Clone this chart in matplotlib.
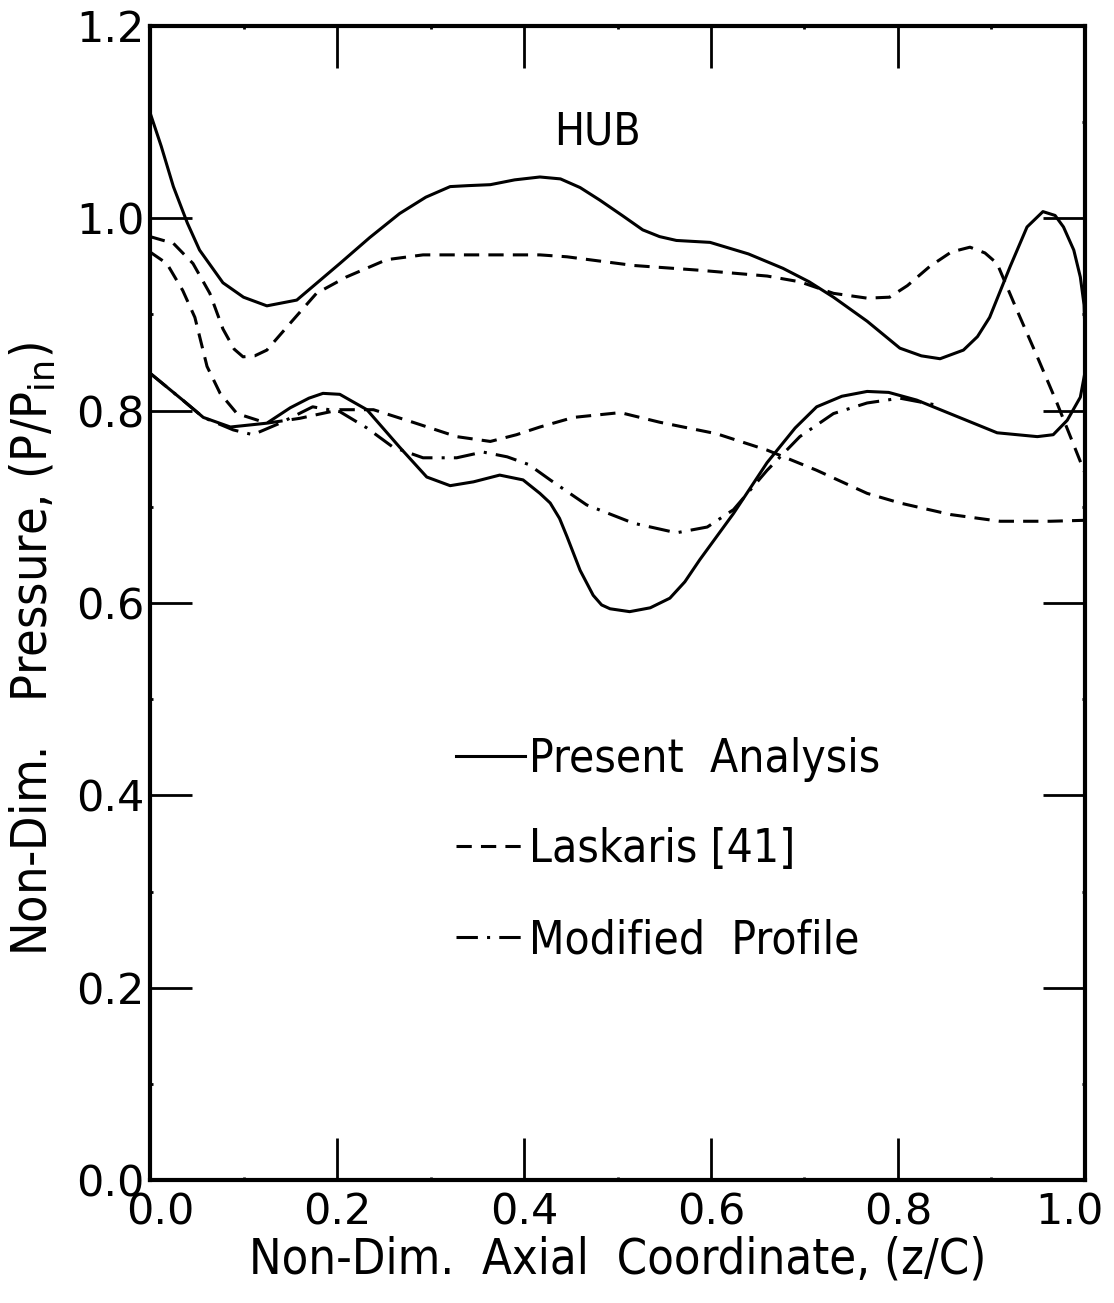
import numpy as np
import matplotlib
matplotlib.use('Agg')
import matplotlib.pyplot as plt
import matplotlib.transforms as mtransforms
from matplotlib.ticker import MultipleLocator, FormatStrFormatter

# ---------------------------------------------------------------
# Hub pressure distribution
# ---------------------------------------------------------------
# Present analysis, upper branch (closes onto lower branch at trailing edge)
pa_up_x = [0.0, 0.012, 0.025, 0.040, 0.053, 0.078, 0.10, 0.125, 0.157, 0.180, 0.203, 0.235,
           0.267, 0.295, 0.321, 0.340, 0.364, 0.390, 0.417, 0.439, 0.460, 0.481, 0.505,
           0.527, 0.545, 0.563, 0.599, 0.640, 0.677, 0.705, 0.731, 0.767, 0.802, 0.825,
           0.845, 0.870, 0.885, 0.898, 0.920, 0.938, 0.955, 0.968, 0.977, 0.988, 0.995,
           0.999, 1.0, 1.0]
pa_up_y = [1.11, 1.075, 1.033, 0.995, 0.967, 0.933, 0.918, 0.909, 0.915, 0.934, 0.953, 0.980,
           1.005, 1.022, 1.033, 1.034, 1.035, 1.040, 1.043, 1.041, 1.032, 1.019, 1.003,
           0.988, 0.981, 0.977, 0.975, 0.963, 0.948, 0.934, 0.918, 0.893, 0.865, 0.857,
           0.854, 0.863, 0.877, 0.897, 0.950, 0.991, 1.007, 1.003, 0.991, 0.967, 0.939,
           0.91, 0.88, 0.84]

# Present analysis, lower branch
pa_lo_x = [0.0, 0.035, 0.057, 0.086, 0.125, 0.150, 0.170, 0.185, 0.203, 0.232, 0.267,
           0.296, 0.321, 0.346, 0.374, 0.399, 0.417, 0.428, 0.438, 0.446, 0.460, 0.474,
           0.483, 0.492, 0.513, 0.535, 0.556, 0.572, 0.588, 0.624, 0.660, 0.690, 0.713,
           0.740, 0.767, 0.790, 0.820, 0.863, 0.906, 0.949, 0.966, 0.981, 0.995, 1.0]
pa_lo_y = [0.839, 0.811, 0.793, 0.783, 0.787, 0.803, 0.813, 0.818, 0.817, 0.801, 0.762,
           0.731, 0.722, 0.726, 0.733, 0.728, 0.714, 0.704, 0.688, 0.669, 0.634, 0.608,
           0.598, 0.594, 0.591, 0.595, 0.605, 0.622, 0.645, 0.693, 0.746, 0.782, 0.804,
           0.815, 0.820, 0.819, 0.811, 0.794, 0.777, 0.773, 0.775, 0.790, 0.814, 0.84]

# Laskaris [41], upper branch
la_up_x = [0.0, 0.025, 0.046, 0.064, 0.078, 0.090, 0.0995, 0.112, 0.125, 0.150, 0.178,
           0.210, 0.253, 0.292, 0.346, 0.417, 0.446, 0.517, 0.588, 0.660, 0.695, 0.731,
           0.767, 0.791, 0.810, 0.834, 0.857, 0.877, 0.893, 0.906, 0.927, 0.949, 0.970, 1.0]
la_up_y = [0.981, 0.974, 0.953, 0.922, 0.885, 0.864, 0.856, 0.857, 0.863, 0.891, 0.922,
           0.939, 0.957, 0.962, 0.962, 0.962, 0.960, 0.951, 0.946, 0.940, 0.934, 0.922,
           0.917, 0.918, 0.930, 0.950, 0.965, 0.970, 0.964, 0.953, 0.905, 0.856, 0.808, 0.735]

# Laskaris [41], lower branch
la_lo_x = [0.0, 0.018, 0.035, 0.048, 0.061, 0.075, 0.093, 0.125, 0.160, 0.203, 0.239,
           0.281, 0.328, 0.364, 0.392, 0.417, 0.453, 0.503, 0.545, 0.606, 0.660,
           0.713, 0.767, 0.802, 0.856, 0.909, 0.963, 1.0]
la_lo_y = [0.965, 0.953, 0.925, 0.897, 0.846, 0.818, 0.797, 0.787, 0.792, 0.801, 0.801,
           0.788, 0.773, 0.768, 0.775, 0.783, 0.793, 0.798, 0.788, 0.776, 0.759,
           0.738, 0.714, 0.704, 0.692, 0.685, 0.685, 0.686]

# Modified profile
mp_x = [0.0, 0.035, 0.057, 0.089, 0.110, 0.139, 0.174, 0.203, 0.232, 0.260, 0.292,
        0.328, 0.356, 0.382, 0.405, 0.428, 0.467, 0.517, 0.563, 0.596, 0.624,
        0.660, 0.695, 0.731, 0.767, 0.802, 0.840]
mp_y = [0.839, 0.811, 0.793, 0.780, 0.775, 0.787, 0.804, 0.799, 0.782, 0.762, 0.751,
        0.751, 0.757, 0.752, 0.744, 0.728, 0.702, 0.683, 0.673, 0.679, 0.697,
        0.738, 0.773, 0.797, 0.808, 0.813, 0.806]

FONT = dict(family='DejaVu Sans', stretch='condensed')

fig = plt.figure(figsize=(11.14, 13.03), dpi=100)
ax = fig.add_axes([150/1114, 1-1180/1303, 935/1114, 1154/1303])

lw = 2.2
ax.plot(pa_up_x, pa_up_y, color='black', lw=lw, label='Present  Analysis')
ax.plot(pa_lo_x, pa_lo_y, color='black', lw=lw)
ax.plot(la_up_x, la_up_y, color='black', lw=lw, dashes=(5, 3), label='Laskaris [41]')
ax.plot(la_lo_x, la_lo_y, color='black', lw=lw, dashes=(5, 3))
ax.plot(mp_x, mp_y, color='black', lw=lw, dashes=(7, 3, 1, 3), label='Modified  Profile')

ax.set_xlim(0, 1.0)
ax.set_ylim(0, 1.2)

ax.xaxis.set_major_locator(MultipleLocator(0.2))
ax.xaxis.set_minor_locator(MultipleLocator(0.1))
ax.yaxis.set_major_locator(MultipleLocator(0.2))
ax.yaxis.set_minor_locator(MultipleLocator(0.1))
ax.xaxis.set_major_formatter(FormatStrFormatter('%.1f'))
ax.yaxis.set_major_formatter(FormatStrFormatter('%.1f'))
ax.tick_params(which='both', direction='in', top=True, right=True, width=2)
ax.tick_params(which='major', length=30, labelsize=31)
ax.tick_params(axis='x', which='major', pad=8)
ax.tick_params(axis='y', which='major', pad=4)
for sp in ax.spines.values():
    sp.set_linewidth(3)

ax.set_xlabel('Non-Dim.  Axial  Coordinate, (z/C)', fontsize=35, labelpad=2, **FONT)
ax.set_ylabel('Non-Dim.   Pressure, (P/P$_{\\rm in}$)', fontsize=36, **FONT)
ax.yaxis.set_label_coords(-0.098, 0.46)

ax.text(0.479, 1.09, 'HUB', fontsize=32, ha='center', va='center', **FONT)

leg = ax.legend(loc='upper left', bbox_to_anchor=(0.283, 0.42), frameon=False,
                handlelength=1.5, handletextpad=0.1, labelspacing=1.0,
                prop=dict(size=33, **FONT))

# nudge the end labels on the x axis so they clear the corners like the original
fig.canvas.draw()
for tick in ax.xaxis.get_major_ticks():
    loc = tick.get_loc()
    if abs(loc) < 1e-6:
        dx = 10
    elif abs(loc - 1.0) < 1e-6:
        dx = -16
    else:
        continue
    tick.label1.set_transform(tick.label1.get_transform()
                              + mtransforms.ScaledTranslation(dx/100, 0, fig.dpi_scale_trans))

fig.savefig('out.png', dpi=100)
